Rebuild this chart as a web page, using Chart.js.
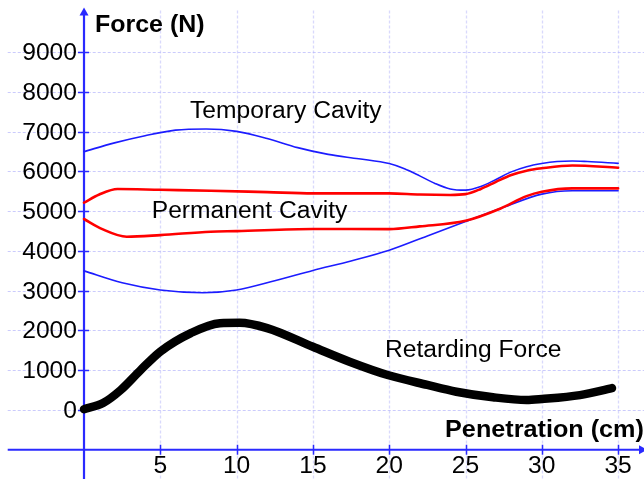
<!DOCTYPE html>
<html>
<head>
<meta charset="utf-8">
<script src="https://cdn.jsdelivr.net/npm/chart.js@4/dist/chart.umd.min.js"></script>
<style>
  html, body { margin: 0; padding: 0; background: #ffffff; }
  #wrap { position: relative; width: 644px; height: 479px; }
</style>
</head>
<body>
<div id="wrap"><canvas id="c"></canvas></div>
<script>
// ---- Data ----
const tempUpperX = [0, 2, 4, 6, 8, 10, 12, 14, 16, 18, 20, 21, 22, 23, 24, 25, 26, 27, 28, 29, 30, 31, 32, 33, 35];
const tempUpperY = [6500, 6720, 6900, 7040, 7070, 7010, 6830, 6600, 6430, 6320, 6200, 6070, 5890, 5700, 5560, 5530, 5620, 5800, 5990, 6120, 6200, 6250, 6265, 6250, 6205];

const tempLowerX = [0, 2.5, 5, 7.8, 10, 12.5, 15, 17.5, 20, 22.5, 25, 27.5, 30, 32, 35];
const tempLowerY = [3500, 3200, 3020, 2950, 3020, 3250, 3510, 3750, 4020, 4380, 4740, 5100, 5430, 5515, 5515];

const permUpperX = [0, 1, 2.2, 5, 8.3, 12, 15, 20, 22, 24, 25, 26, 27, 28, 29, 30, 32, 35];
const permUpperY = [5215, 5420, 5560, 5540, 5517, 5480, 5450, 5450, 5420, 5410, 5430, 5560, 5740, 5910, 6020, 6080, 6150, 6095];

const permLowerX = [0, 1.2, 2.8, 5, 8.3, 10, 15, 20, 22, 25, 27.3, 29, 30, 32, 35];
const permLowerY = [4805, 4550, 4360, 4400, 4485, 4500, 4553, 4550, 4620, 4760, 5070, 5380, 5490, 5575, 5575];

const retardX = [0, 1.25, 2.4, 3.7, 5, 7, 8.9, 10.2, 12, 15, 17.4, 19.9, 22.5, 24.4, 26.8, 29, 30, 32.5, 34.6];
const retardY = [20, 175, 500, 1000, 1470, 1935, 2185, 2195, 2060, 1590, 1215, 880, 630, 460, 320, 250, 275, 375, 550];

const yTickValues = [0, 1000, 2000, 3000, 4000, 5000, 6000, 7000, 8000, 9000];
const yTickLabels = ['0', '1000', '2000', '3000', '4000', '5000', '6000', '7000', '8000', '9000'];
const xTickValues = [5, 10, 15, 20, 25, 30, 35];
const xTickLabels = ['5', '10', '15', '20', '25', '30', '35'];

const seriesNames = ['Temporary Cavity', 'Permanent Cavity', 'Retarding Force'];
const xAxisTitle = 'Penetration (cm)';
const yAxisTitle = 'Force (N)';

// ---- helpers ----
const pts = (xs, ys) => xs.map((v, i) => ({ x: v, y: ys[i] }));

const AXIS_BLUE = '#2a2aff';
const LINE_BLUE = '#1c1cff';
const RED = '#ff0000';
const FONT = '"Liberation Sans", Arial, sans-serif';
const SX = 1.07;

function stretchedText(ctx, text, px, py, align, font, sx) {
  ctx.save();
  ctx.font = font;
  const w = ctx.measureText(text).width * sx;
  let left = px;
  if (align === 'right') left = px - w;
  else if (align === 'center') left = px - w / 2;
  ctx.translate(left, py);
  ctx.scale(sx, 1);
  ctx.textAlign = 'left';
  ctx.textBaseline = 'alphabetic';
  ctx.fillStyle = '#000000';
  ctx.fillText(text, 0, 0);
  ctx.restore();
}

const axesPlugin = {
  id: 'customAxes',
  beforeDatasetsDraw(chart) {
    const { ctx, scales: { x, y } } = chart;
    const W = chart.width, H = chart.height;
    const x0 = x.getPixelForValue(0);
    const xLeft = x.getPixelForValue(-5);
    const yAxisPix = y.getPixelForValue(-1000);
    const yTop = y.getPixelForValue(10050);

    ctx.save();
    // horizontal grid
    ctx.setLineDash([3, 2]);
    ctx.lineWidth = 1;
    ctx.strokeStyle = 'rgba(160,160,250,0.55)';
    yTickValues.forEach(v => {
      const py = Math.round(y.getPixelForValue(v)) + 0.5;
      ctx.beginPath(); ctx.moveTo(xLeft, py); ctx.lineTo(W, py); ctx.stroke();
    });
    // vertical grid
    ctx.strokeStyle = 'rgba(180,180,250,0.5)';
    ctx.lineWidth = 1.3;
    xTickValues.forEach(v => {
      const px = Math.round(x.getPixelForValue(v)) + 0.5;
      ctx.beginPath(); ctx.moveTo(px, yTop); ctx.lineTo(px, H); ctx.stroke();
    });
    ctx.setLineDash([]);

    // axes
    ctx.strokeStyle = AXIS_BLUE;
    ctx.fillStyle = AXIS_BLUE;
    ctx.lineWidth = 2.2;
    ctx.beginPath(); ctx.moveTo(x0, yTop + 2); ctx.lineTo(x0, H); ctx.stroke();
    ctx.beginPath(); ctx.moveTo(xLeft, yAxisPix); ctx.lineTo(W, yAxisPix); ctx.stroke();
    // arrowheads
    ctx.beginPath(); ctx.moveTo(x0, yTop - 3); ctx.lineTo(x0 - 4.5, yTop + 5); ctx.lineTo(x0 + 4.5, yTop + 5); ctx.closePath(); ctx.fill();
    ctx.beginPath(); ctx.moveTo(W + 3, yAxisPix); ctx.lineTo(W - 5, yAxisPix - 4.5); ctx.lineTo(W - 5, yAxisPix + 4.5); ctx.closePath(); ctx.fill();
    // tick marks
    ctx.lineWidth = 1.5;
    yTickValues.forEach(v => {
      const py = Math.round(y.getPixelForValue(v)) + 0.5;
      ctx.beginPath(); ctx.moveTo(x0 - 6, py); ctx.lineTo(x0 + 5, py); ctx.stroke();
    });
    xTickValues.forEach(v => {
      const px = Math.round(x.getPixelForValue(v)) + 0.5;
      ctx.beginPath(); ctx.moveTo(px, yAxisPix - 5); ctx.lineTo(px, yAxisPix + 5); ctx.stroke();
    });
    ctx.restore();

    // tick labels
    const tf = '23px ' + FONT;
    yTickValues.forEach((v, i) => {
      stretchedText(ctx, yTickLabels[i], x.getPixelForValue(-0.46), y.getPixelForValue(v) + 8, 'right', tf, SX);
    });
    xTickValues.forEach((v, i) => {
      stretchedText(ctx, xTickLabels[i], x.getPixelForValue(v), y.getPixelForValue(-1585), 'center', tf, SX);
    });
  },
  afterDatasetsDraw(chart) {
    const { ctx, scales: { x, y } } = chart;
    const nf = '23px ' + FONT;
    const bf = 'bold 24px ' + FONT;
    stretchedText(ctx, seriesNames[0], x.getPixelForValue(6.95), y.getPixelForValue(7346), 'left', nf, SX);
    stretchedText(ctx, seriesNames[1], x.getPixelForValue(4.44), y.getPixelForValue(4823), 'left', nf, SX);
    stretchedText(ctx, seriesNames[2], x.getPixelForValue(19.72), y.getPixelForValue(1326), 'left', nf, SX);
    stretchedText(ctx, yAxisTitle, x.getPixelForValue(0.72), y.getPixelForValue(9502), 'left', bf, 1.04);
    stretchedText(ctx, xAxisTitle, x.getPixelForValue(23.66), y.getPixelForValue(-687), 'left', bf, 1.05);
  }
};

const lineDs = (data, color, width) => ({
  data, borderColor: color, borderWidth: width, pointRadius: 0, pointHoverRadius: 0,
  showLine: true, fill: false, cubicInterpolationMode: 'monotone',
  borderCapStyle: 'round', borderJoinStyle: 'round'
});

new Chart(document.getElementById('c'), {
  type: 'scatter',
  data: {
    datasets: [
      lineDs(pts(retardX, retardY), '#000000', 8.5),
      lineDs(pts(permUpperX, permUpperY), RED, 2.6),
      lineDs(pts(permLowerX, permLowerY), RED, 2.6),
      lineDs(pts(tempUpperX, tempUpperY), LINE_BLUE, 1.6),
      lineDs(pts(tempLowerX, tempLowerY), LINE_BLUE, 1.6)
    ]
  },
  options: {
    responsive: true,
    maintainAspectRatio: false,
    animation: false,
    devicePixelRatio: 1,
    layout: { padding: 0 },
    plugins: { legend: { display: false }, tooltip: { enabled: false } },
    scales: {
      x: { type: 'linear', display: false, min: -5.505, max: 36.697 },
      y: { type: 'linear', display: false, min: -1736, max: 10314 }
    },
    elements: { line: { tension: 0.4 } }
  },
  plugins: [axesPlugin]
});
</script>
</body>
</html>
